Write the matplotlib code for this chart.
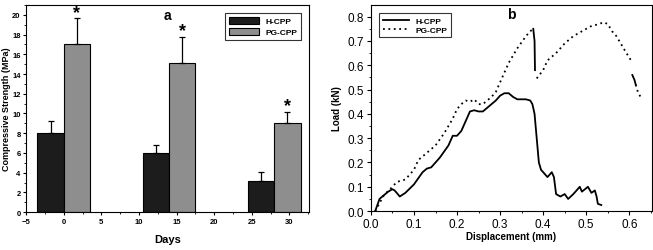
import numpy as np
import matplotlib
matplotlib.use('Agg')
import matplotlib.pyplot as plt
from matplotlib.ticker import MultipleLocator

plt.rcParams['font.family'] = ['Liberation Sans', 'DejaVu Sans']

# panel a: compressive strength
dias = [0, 14, 28]
h_cpp = [8.0, 6.0, 3.2]
h_err = [1.2, 0.8, 0.9]
pg_cpp = [17.0, 15.1, 9.0]
pg_err = [2.7, 2.7, 1.2]

# panel b: load-displacement
h_x = [0.01, 0.02, 0.03, 0.04, 0.05, 0.055, 0.06, 0.067, 0.08, 0.10, 0.12, 0.13, 0.14, 0.16,
       0.18, 0.19, 0.20, 0.21, 0.22, 0.23, 0.24, 0.25, 0.26, 0.27, 0.29, 0.30, 0.31, 0.32,
       0.33, 0.34, 0.36, 0.37, 0.375, 0.38, 0.385, 0.39, 0.395, 0.40, 0.41, 0.42, 0.425,
       0.43, 0.44, 0.45, 0.458, 0.47, 0.485, 0.49, 0.497, 0.504, 0.512, 0.52, 0.524, 0.527,
       0.535]
h_y = [0.0, 0.05, 0.065, 0.08, 0.09, 0.085, 0.075, 0.06, 0.075, 0.11, 0.16, 0.175, 0.18, 0.22,
       0.27, 0.31, 0.31, 0.33, 0.37, 0.41, 0.415, 0.41, 0.41, 0.425, 0.455, 0.475, 0.485, 0.485,
       0.47, 0.46, 0.46, 0.455, 0.44, 0.40, 0.30, 0.20, 0.17, 0.16, 0.14, 0.16, 0.14,
       0.07, 0.06, 0.07, 0.05, 0.07, 0.10, 0.08, 0.09, 0.10, 0.075, 0.085, 0.06, 0.03,
       0.025]
pg_x = [0.01, 0.03, 0.05, 0.06, 0.07, 0.08, 0.10, 0.11, 0.13, 0.15, 0.17, 0.19, 0.20, 0.21,
        0.22, 0.23, 0.24, 0.25, 0.26, 0.27, 0.28, 0.29, 0.30, 0.31, 0.32, 0.33, 0.34, 0.35,
        0.36, 0.37, 0.377]
pg_y = [0.0, 0.065, 0.10, 0.12, 0.125, 0.13, 0.17, 0.21, 0.24, 0.27, 0.32, 0.38, 0.42, 0.44,
        0.455, 0.45, 0.46, 0.44, 0.44, 0.455, 0.47, 0.49, 0.53, 0.57, 0.61, 0.64, 0.67, 0.695,
        0.72, 0.74, 0.75]
pg_caida_x = [0.377, 0.380, 0.381]
pg_caida_y = [0.75, 0.70, 0.58]
pg2_x = [0.385, 0.40, 0.41, 0.43, 0.45, 0.47, 0.49, 0.51, 0.53, 0.54, 0.55, 0.56, 0.57, 0.58,
         0.59, 0.604]
pg2_y = [0.546, 0.58, 0.62, 0.65, 0.69, 0.72, 0.74, 0.76, 0.77, 0.777, 0.77, 0.74, 0.72, 0.69,
         0.66, 0.62]
pg3_x = [0.607, 0.612, 0.615]
pg3_y = [0.56, 0.54, 0.52]
pg4_x = [0.615, 0.62, 0.627]
pg4_y = [0.52, 0.49, 0.467]

fig = plt.figure(figsize=(6.53, 2.51), dpi=100)
ax1 = fig.add_axes([0.040, 0.151, 0.433, 0.825])
ax2 = fig.add_axes([0.568, 0.155, 0.430, 0.821])

# --- a ---
ancho = 3.5
x = np.array(dias)
ax1.bar(x - ancho / 2, h_cpp, ancho, color='#1c1c1c', edgecolor='black', lw=0.8, label='H-CPP')
ax1.bar(x + ancho / 2, pg_cpp, ancho, color='#8e8e8e', edgecolor='black', lw=0.8, label='PG-CPP')
ax1.errorbar(x - ancho / 2, h_cpp, yerr=[np.zeros(3), h_err], fmt='none', ecolor='black',
             elinewidth=0.9, capsize=2.5, capthick=0.9)
ax1.errorbar(x + ancho / 2, pg_cpp, yerr=[np.zeros(3), pg_err], fmt='none', ecolor='black',
             elinewidth=0.9, capsize=2.5, capthick=0.9)
for xi, v, e in zip(x, pg_cpp, pg_err):
    ax1.text(xi + ancho / 2, v + e - 0.3, '*', ha='center', va='bottom', fontsize=13, fontweight='bold')
ax1.set_xlim(-5, 32.6)
ax1.set_ylim(0, 21)
ax1.xaxis.set_major_locator(MultipleLocator(5))
ax1.xaxis.set_minor_locator(MultipleLocator(2.5))
ax1.yaxis.set_major_locator(MultipleLocator(2))
ax1.yaxis.set_minor_locator(MultipleLocator(1))
ax1.tick_params(labelsize=5.5, length=2.5, width=0.8, pad=1.5)
ax1.tick_params(which='minor', length=1.5, width=0.6)
for t in ax1.get_xticklabels() + ax1.get_yticklabels():
    t.set_fontweight('bold')
ax1.set_xlabel('Days', fontsize=8, fontweight='bold', labelpad=7)
ax1.set_ylabel('Compressive Strength (MPa)', fontsize=6.5, fontweight='bold', labelpad=1)
ax1.text(0.5, 0.95, 'a', transform=ax1.transAxes, ha='center', va='center', fontsize=10,
         fontweight='bold')
leg1 = ax1.legend(loc='upper right', prop={'weight': 'bold', 'size': 6},
                  fancybox=False, edgecolor='black', handlelength=3.6, handleheight=1.0,
                  borderaxespad=1.0, labelspacing=0.3, borderpad=0.4)
leg1.get_frame().set_linewidth(0.8)

# --- b ---
ax2.plot(h_x, h_y, color='black', lw=1.3, label='H-CPP')
ax2.plot(pg_x, pg_y, color='black', lw=1.3, ls=(0, (1, 2)), label='PG-CPP')
ax2.plot(pg_caida_x, pg_caida_y, color='black', lw=1.3)
ax2.plot(pg2_x, pg2_y, color='black', lw=1.3, ls=(0, (1, 2)))
ax2.plot(pg3_x, pg3_y, color='black', lw=1.3)
ax2.plot(pg4_x, pg4_y, color='black', lw=1.3, ls=(0, (1, 2)))
ax2.set_xlim(0, 0.652)
ax2.set_ylim(0, 0.848)
ax2.xaxis.set_major_locator(MultipleLocator(0.1))
ax2.xaxis.set_minor_locator(MultipleLocator(0.05))
ax2.yaxis.set_major_locator(MultipleLocator(0.1))
ax2.yaxis.set_minor_locator(MultipleLocator(0.05))
ax2.xaxis.set_major_formatter(plt.FormatStrFormatter('%.1f'))
ax2.yaxis.set_major_formatter(plt.FormatStrFormatter('%.1f'))
ax2.tick_params(labelsize=8.5, length=3, width=0.8, pad=2)
ax2.tick_params(which='minor', length=1.5, width=0.6)
ax2.set_xlabel('Displacement (mm)', fontsize=7, fontweight='bold', labelpad=1)
ax2.set_ylabel('Load (kN)', fontsize=7, fontweight='bold', labelpad=4)
ax2.text(0.5, 0.955, 'b', transform=ax2.transAxes, ha='center', va='center', fontsize=10,
         fontweight='bold')
leg2 = ax2.legend(loc='upper left', prop={'weight': 'bold', 'size': 6}, fancybox=False,
                  edgecolor='black', handlelength=3.2, borderaxespad=1.0, labelspacing=0.2)
leg2.get_frame().set_linewidth(0.8)

for ax in (ax1, ax2):
    for s in ax.spines.values():
        s.set_linewidth(0.8)

fig.savefig('out.png', dpi=100)
